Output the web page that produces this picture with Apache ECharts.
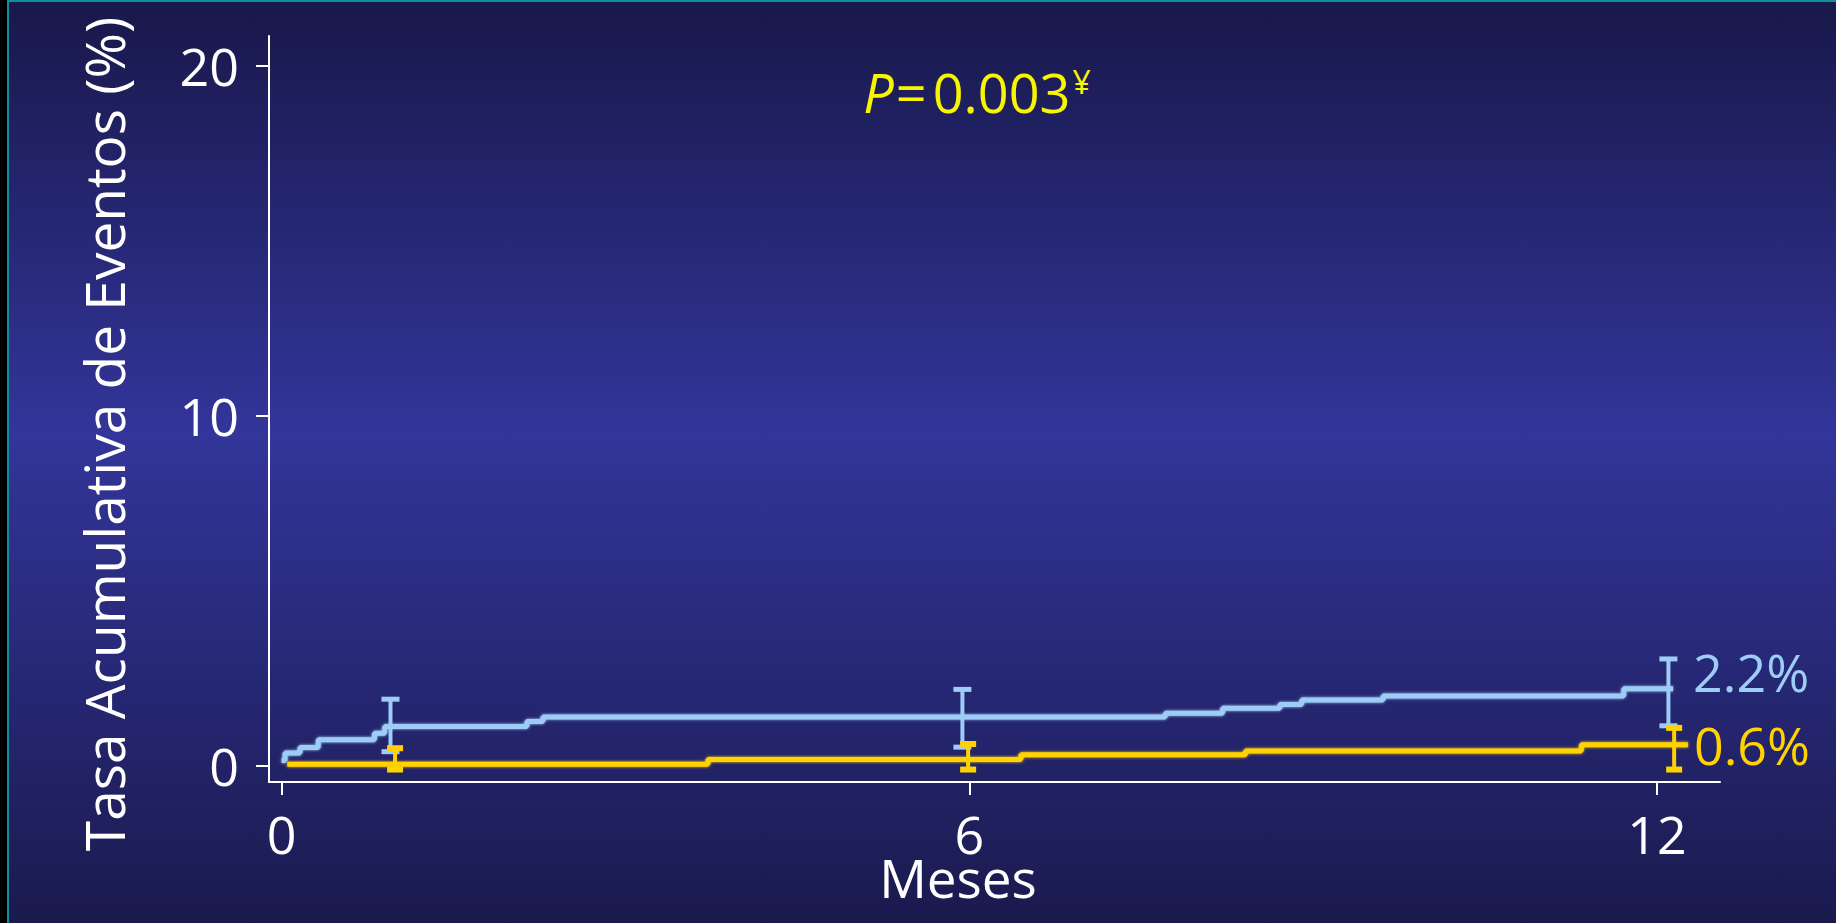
<!DOCTYPE html>
<html>
<head>
<meta charset="utf-8">
<script src="https://cdn.jsdelivr.net/npm/echarts@6.0.0/dist/echarts.min.js"></script>
<style>
  html, body { margin: 0; padding: 0; background: #000; overflow: hidden; }
  #wrap { position: relative; width: 1836px; height: 923px; }
  #chart { position: absolute; left: 0; top: 0; width: 1836px; height: 923px; }
  .edge-black { position: absolute; left: 0; top: 0; width: 7px; height: 923px; background: #000; }
  .edge-left { position: absolute; left: 7px; top: 0; width: 2px; height: 923px; background: #0e8f9c; }
  .edge-top { position: absolute; left: 7px; top: 0; width: 1829px; height: 2px; background: #0e8f9c; }
</style>
</head>
<body>
<div id="wrap">
  <div id="chart"></div>
  <div class="edge-black"></div>
  <div class="edge-left"></div>
  <div class="edge-top"></div>
</div>
<script>
// Cumulative event rate (%) by month, two groups (Kaplan-Meier style steps)
const xTicks = [0, 6, 12];
const yTicks = [0, 10, 20];

const blueMonths = [0, 0.03, 0.16, 0.32, 0.81, 0.9, 2.14, 2.28, 7.71, 8.21, 8.71, 8.9, 9.61, 11.71, 12.14];
const blueRates  = [0.15, 0.36, 0.52, 0.74, 0.93, 1.12, 1.26, 1.39, 1.5, 1.64, 1.75, 1.88, 1.99, 2.2, 2.2];

const yellowMonths = [0.05, 3.72, 6.45, 8.41, 11.34, 12.27];
const yellowRates  = [0.04, 0.18, 0.31, 0.42, 0.6, 0.6];

// confidence intervals: [month, lower, upper]
const blueCI   = [[0.95, 0.4, 1.9], [5.94, 0.53, 2.18], [12.1, 1.14, 3.05]];
const yellowCI = [[0.99, -0.11, 0.5], [5.99, -0.11, 0.62], [12.15, -0.11, 1.08]];

const blueFinal = '2.2%';
const yellowFinal = '0.6%';
const pText = '0.003';

const BLUE = '#9dcdf6';
const YELLOW = '#ffd200';
const FONT = 'Open Sans';

const zip = (xs, ys) => xs.map((x, i) => [x, ys[i]]);

function errorBars(color, capW, capT) {
  return function (params, api) {
    const lo = api.coord([api.value(0), api.value(1)]);
    const hi = api.coord([api.value(0), api.value(2)]);
    const st = { stroke: color, lineWidth: 4 };
    const capSt = { stroke: color, lineWidth: capT };
    return {
      type: 'group',
      children: [
        { type: 'line', shape: { x1: lo[0], y1: lo[1], x2: hi[0], y2: hi[1] }, style: st },
        { type: 'line', shape: { x1: hi[0] - capW, y1: hi[1], x2: hi[0] + capW, y2: hi[1] }, style: capSt },
        { type: 'line', shape: { x1: lo[0] - capW, y1: lo[1], x2: lo[0] + capW, y2: lo[1] }, style: capSt }
      ]
    };
  };
}

const chart = echarts.init(document.getElementById('chart'), null, { renderer: 'svg' });

chart.setOption({
  animation: false,
  backgroundColor: {
    type: 'linear', x: 0, y: 0, x2: 0, y2: 1,
    colorStops: [
      { offset: 0, color: '#18184a' },
      { offset: 0.47, color: '#33359a' },
      { offset: 1, color: '#1a1a4e' }
    ]
  },
  grid: { left: 269, right: 116, top: 36, bottom: 141 },
  xAxis: {
    type: 'value',
    min: -0.11,
    max: 12.55,
    splitLine: { show: false },
    axisLine: { show: true, onZero: false, lineStyle: { color: '#ffffff', width: 2 } },
    axisTick: { show: true, customValues: xTicks, length: 13, lineStyle: { color: '#ffffff', width: 2 } },
    axisLabel: { customValues: xTicks, color: '#ffffff', fontSize: 52, lineHeight: 44, fontFamily: FONT, margin: 29 }
  },
  yAxis: {
    type: 'value',
    min: -0.466,
    max: 20.85,
    splitLine: { show: false },
    axisLine: { show: true, onZero: false, lineStyle: { color: '#ffffff', width: 2 } },
    axisTick: { show: true, customValues: yTicks, length: 13, lineStyle: { color: '#ffffff', width: 2 } },
    axisLabel: { customValues: yTicks, color: '#ffffff', fontSize: 52, lineHeight: 44, fontFamily: FONT, margin: 30 }
  },
  graphic: [
    {
      type: 'text', x: 103, y: 434, rotation: Math.PI / 2,
      style: {
        text: 'Tasa Acumulativa de Eventos (%)', fill: '#ffffff',
        font: '55px "Open Sans"', align: 'center', verticalAlign: 'middle'
      }
    },
    {
      type: 'text', x: 958, y: 877,
      style: {
        text: 'Meses', fill: '#ffffff', lineHeight: 40,
        font: '53px "Open Sans"', align: 'center', verticalAlign: 'middle'
      }
    },
    {
      type: 'text', x: 977, y: 92,
      style: {
        text: '{i|P}{e|=}{n|' + pText + '}{s|¥}',
        align: 'center', verticalAlign: 'middle',
        rich: {
          i: { fill: '#f7f500', fontSize: 54, fontStyle: 'italic', fontFamily: FONT },
          e: { fill: '#f7f500', fontSize: 54, fontFamily: FONT, padding: [0, 6, 0, 2] },
          n: { fill: '#f7f500', fontSize: 54, fontFamily: FONT },
          s: { fill: '#f7f500', fontSize: 32, fontFamily: FONT, verticalAlign: 'top', padding: [0, 0, 22, 2] }
        }
      }
    }
  ],
  series: [
    {
      type: 'line', step: 'end', symbol: 'none',
      data: zip(blueMonths, blueRates),
      lineStyle: { color: BLUE, width: 5, shadowColor: BLUE, shadowBlur: 3 },
      endLabel: { show: true, formatter: blueFinal, color: BLUE, fontSize: 52, fontFamily: FONT, distance: 20, offset: [0, -17] },
      z: 3
    },
    {
      type: 'line', step: 'end', symbol: 'none',
      data: zip(yellowMonths, yellowRates),
      lineStyle: { color: YELLOW, width: 5, shadowColor: YELLOW, shadowBlur: 3 },
      endLabel: { show: true, formatter: yellowFinal, color: YELLOW, fontSize: 52, fontFamily: FONT, distance: 6 },
      z: 3
    },
    {
      type: 'custom', renderItem: errorBars(BLUE, 9, 5),
      encode: { x: 0, y: [1, 2] }, data: blueCI, z: 4
    },
    {
      type: 'custom', renderItem: errorBars(YELLOW, 8, 6),
      encode: { x: 0, y: [1, 2] }, data: yellowCI, z: 5
    }
  ]
});
</script>
</body>
</html>
